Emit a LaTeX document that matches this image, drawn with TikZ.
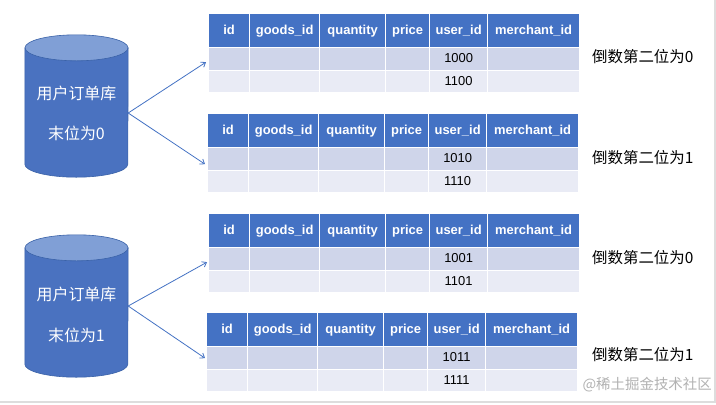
\documentclass[tikz,border=0pt]{standalone}
\usepackage{fontspec}
\setmainfont{Liberation Sans}
\newfontfamily\cjk{Noto Sans CJK SC}
\usetikzlibrary{arrows.meta,calc}

\definecolor{hdrblue}{HTML}{4472C4}
\definecolor{rowa}{HTML}{CFD5EA}
\definecolor{rowb}{HTML}{E9EBF5}
\definecolor{dbbody}{HTML}{4A72C0}
\definecolor{dbtop}{HTML}{809FD6}
\definecolor{dbedge}{HTML}{3A62A8}
\definecolor{framegray}{HTML}{DDDDDD}

\tikzset{
  cellbox/.style={draw=white, line width=1.3bp, inner sep=0pt, anchor=north west,
    text height=9.5bp, text depth=2.5bp},
  hdrcell/.style={cellbox, fill=hdrblue, minimum height=34bp, text=white,
    font=\bfseries\fontsize{13}{13}\selectfont},
  rowacell/.style={cellbox, fill=rowa, minimum height=23bp,
    font=\fontsize{13}{13}\selectfont},
  rowbcell/.style={cellbox, fill=rowb, minimum height=22bp,
    font=\fontsize{13}{13}\selectfont},
  dbtext/.style={text=white, font=\cjk\fontsize{16}{16}\selectfont},
  sidelabel/.style={anchor=west, inner sep=0pt, font=\cjk\fontsize{15.5}{15.5}\selectfont},
  link/.style={draw=hdrblue, line width=0.8bp, -{Straight Barb[length=4bp,width=6bp]}},
}

% one order table: name prefix, left x, top y, user_id of row 1, user_id of row 2
\newcommand\ordertable[5]{%
  \foreach \w/\off/\lab [count=\i] in
      {41/0/id, 70/41/goods\_id, 66/111/quantity, 44/177/price, 58/221/user\_id, 92/279/merchant\_id} {
    \node[hdrcell, minimum width=\w bp] (#1-h\i) at (#2+\off, #3) {\lab};
    \node[rowacell, minimum width=\w bp] (#1-a\i) at (#2+\off, #3+34) {\ifnum\i=5 #4\fi};
    \node[rowbcell, minimum width=\w bp] (#1-b\i) at (#2+\off, #3+57) {\ifnum\i=5 #5\fi};
  }%
}

% database cylinder: name, centre x, centre y
\newcommand\dbcylinder[3]{%
  \node[minimum width=103bp, minimum height=142bp, inner sep=0pt] (#1) at (#2, #3) {};
  \filldraw[fill=dbbody, draw=dbedge, line width=0.6bp]
    ($(#1.north west)+(0,13)$) -- ($(#1.south west)+(0,-13)$)
    arc[start angle=180, end angle=0, x radius=51.5, y radius=13]
    -- ($(#1.north east)+(0,13)$) -- cycle;
  \filldraw[fill=dbtop, draw=dbedge, line width=0.6bp]
    ($(#1.north)+(0,13)$) ellipse[x radius=51.5, y radius=13];
}

\begin{document}
\begin{tikzpicture}[x=1bp, y=-1bp]
  \useasboundingbox (0,0) rectangle (716,404);
  \fill[white] (0,0) rectangle (716,404);
  \draw[framegray, line width=1.5bp] (715,0) -- (715,402) -- (0,402);

  % shard databases
  \dbcylinder{db0}{76.5}{106}
  \node[dbtext] (db0-name) at (76.5,93) {用户订单库};
  \node[dbtext] (db0-tail) at (76.5,133) {末位为0};
  \dbcylinder{db1}{76.5}{306}
  \node[dbtext] (db1-name) at (76.5,294) {用户订单库};
  \node[dbtext] (db1-tail) at (76.5,335) {末位为1};

  % order tables
  \ordertable{t1}{208}{13}{1000}{1100}
  \ordertable{t2}{207}{113}{1010}{1110}
  \ordertable{t3}{208}{213}{1001}{1101}
  \ordertable{t4}{206}{312}{1011}{1111}

  % table captions
  \node[sidelabel] (l1) at (592,57) {倒数第二位为0};
  \node[sidelabel] (l2) at (592,158) {倒数第二位为1};
  \node[sidelabel] (l3) at (592,258) {倒数第二位为0};
  \node[sidelabel] (l4) at (592,355) {倒数第二位为1};

  % routing arrows
  \coordinate (db0-out) at ($(db0.east)+(0,7)$);
  \coordinate (db1-out) at (db1.east);
  \draw[link] (db0-out) -- ($(t1-a1.west)+(-2,3)$);
  \draw[link] (db0-out) -- ($(t2-a1.west)+(-2,5)$);
  \draw[link] (db1-out) -- ($(t3-a1.west)+(-1,3)$);
  \draw[link] (db1-out) -- ($(t4-a1.west)+(-1,0)$);

  % watermark
  \node[anchor=east, inner sep=0pt, text=black!30, font=\cjk\fontsize{14.5}{14.5}\selectfont]
    (mark) at (712,385) {@稀土掘金技术社区};
\end{tikzpicture}
\end{document}
